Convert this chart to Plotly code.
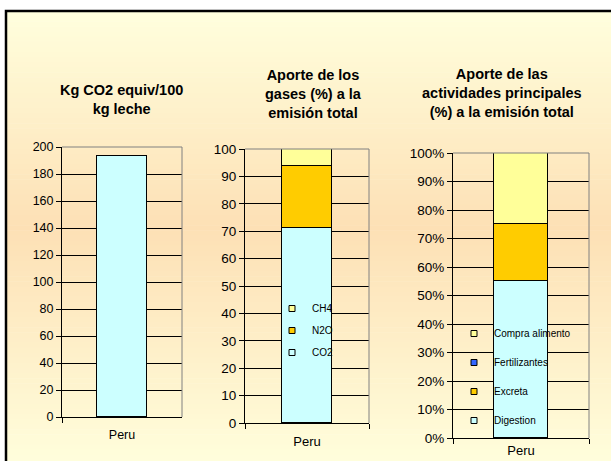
import plotly.graph_objects as go

W, H = 611, 461

def px(x):
    return x / W

def py(y):
    return 1 - y / H

# ---------------- data ----------------
categories = ["Peru"]
emision_total = [193]                      # Kg CO2 equiv / 100 kg leche

gas_names = ["CO2", "N2O", "CH4"]
gas_values = [71.2, 22.6, 6.2]             # %

act_names = ["Digestion", "Excreta", "Fertilizantes", "Compra alimento"]
act_values = [55.1, 20.0, 0.0, 24.9]       # %

titles = ["Kg CO2 equiv/100<br>kg leche",
          "Aporte de los<br>gases (%) a la<br>emisión total",
          "Aporte de las<br>actividades principales<br>(%) a la emisión total"]

# ---------------- styles ----------------
FONT = "Arial, Liberation Sans, sans-serif"
gas_colors = {"CO2": "#CCFFFF", "N2O": "#FFCC00", "CH4": "#FFFF99"}
act_colors = {"Digestion": "#CCFFFF", "Excreta": "#FFCC00",
              "Fertilizantes": "#3366FF", "Compra alimento": "#FFFF99"}

fig = go.Figure()

fig.add_trace(go.Bar(x=categories, y=emision_total, xaxis="x", yaxis="y",
                     marker=dict(color="#CCFFFF", line=dict(color="black", width=1)),
                     width=0.41, showlegend=False, name="Kg CO2 equiv"))

for n, v in zip(gas_names, gas_values):
    fig.add_trace(go.Bar(x=categories, y=[v], xaxis="x2", yaxis="y2", name=n,
                         marker=dict(color=gas_colors[n], line=dict(color="black", width=1)),
                         width=0.40, showlegend=False))

for n, v in zip(act_names, act_values):
    fig.add_trace(go.Bar(x=categories, y=[v], xaxis="x3", yaxis="y3", name=n,
                         marker=dict(color=act_colors[n], line=dict(color="black", width=1)),
                         width=0.40, showlegend=False))

# legend entries (display order top -> bottom)
for n in reversed(gas_names):
    fig.add_trace(go.Scatter(x=[None], y=[None], xaxis="x2", yaxis="y2", mode="markers", name=n,
                             legend="legend", legendgroup="g_" + n,
                             marker=dict(symbol="square", size=6, color=gas_colors[n],
                                         line=dict(color="black", width=1))))
for n in reversed(act_names):
    fig.add_trace(go.Scatter(x=[None], y=[None], xaxis="x3", yaxis="y3", mode="markers", name=n,
                             legend="legend2", legendgroup="a_" + n,
                             marker=dict(symbol="square", size=6, color=act_colors[n],
                                         line=dict(color="black", width=1))))

def xax(d0, d1, anchor, fsize, standoff):
    return dict(domain=[px(d0), px(d1)], anchor=anchor, showline=True, linecolor="black",
                linewidth=1, ticks="outside", tickson="boundaries", ticklen=5,
                tickcolor="black", tickfont=dict(family=FONT, size=fsize, color="black"),
                ticklabelstandoff=standoff, showgrid=False, fixedrange=True,
                automargin=False)

def yax(d0, d1, anchor, rng, dtick, fsize, suffix=""):
    return dict(domain=[py(d0), py(d1)], anchor=anchor, range=rng, dtick=dtick,
                showline=True, linecolor="black", linewidth=1, ticks="outside",
                ticklen=5, tickcolor="black", showgrid=True, gridcolor="black",
                gridwidth=1, zeroline=False, ticksuffix=suffix,
                tickfont=dict(family=FONT, size=fsize, color="black"), fixedrange=True,
                automargin=False)

# background gradient + frame
shapes = []
top, bot, mid = 11, 470, 228
c_light = (255, 255, 221)
c_peach = (253, 224, 181)
N = 90
for i in range(N):
    y0 = top + (bot - top) * i / N
    y1 = top + (bot - top) * (i + 1) / N
    yc = (y0 + y1) / 2
    t = 1 - abs(yc - mid) / ((mid - top) if yc < mid else (bot - mid))
    t = max(0.0, min(1.0, t))
    col = tuple(round(a + (b - a) * t) for a, b in zip(c_light, c_peach))
    shapes.append(dict(type="rect", xref="paper", yref="paper", layer="below",
                       x0=px(6), x1=px(630), y0=py(y1 + 0.5), y1=py(y0),
                       fillcolor="rgb(%d,%d,%d)" % col, line=dict(width=0)))
shapes.append(dict(type="rect", xref="paper", yref="paper", layer="above",
                   x0=px(6), x1=px(640), y0=py(480), y1=py(11),
                   fillcolor="rgba(0,0,0,0)", line=dict(color="black", width=2.5)))
for xa, ya in [("x", "y"), ("x2", "y2"), ("x3", "y3")]:
    shapes.append(dict(type="line", xref=xa + " domain", yref=ya + " domain", layer="above",
                       x0=0, x1=1, y0=1, y1=1, line=dict(color="#808080", width=1)))
    shapes.append(dict(type="line", xref=xa + " domain", yref=ya + " domain", layer="above",
                       x0=1, x1=1, y0=0, y1=1, line=dict(color="#808080", width=1)))

annotations = []
for txt, xc, ytop in zip(titles, [121, 313, 502], [80, 65, 64]):
    annotations.append(dict(text="<b>" + txt + "</b>", xref="paper", yref="paper",
                            x=px(xc), y=py(ytop), xanchor="center", yanchor="top",
                            showarrow=False, align="center",
                            font=dict(family=FONT, size=14.5, color="black")))

fig.update_layout(
    width=W, height=H, margin=dict(l=0, r=0, t=0, b=0, autoexpand=False),
    paper_bgcolor="white", plot_bgcolor="rgba(0,0,0,0)",
    barmode="stack", bargap=0,
    xaxis=xax(62, 182, "y", 12.5, 6),
    yaxis=yax(417, 147, "x", [0, 200], 20, 12.5),
    xaxis2=xax(245, 369, "y2", 13, 6),
    yaxis2=yax(423, 149, "x2", [0, 100], 10, 13.5),
    xaxis3=xax(453, 589, "y3", 13, 0),
    yaxis3=yax(438, 153, "x3", [0, 100], 10, 13.5, "%"),
    legend=dict(x=px(272), y=py(294), xanchor="left", yanchor="top",
                bgcolor="rgba(0,0,0,0)", borderwidth=0, traceorder="grouped",
                tracegroupgap=3, font=dict(family=FONT, size=10, color="black")),
    legend2=dict(x=px(454), y=py(319), xanchor="left", yanchor="top",
                 bgcolor="rgba(0,0,0,0)", borderwidth=0, traceorder="grouped",
                 tracegroupgap=10, font=dict(family=FONT, size=10, color="black")),
    shapes=shapes, annotations=annotations, showlegend=True,
)

fig.write_html("out.html")
